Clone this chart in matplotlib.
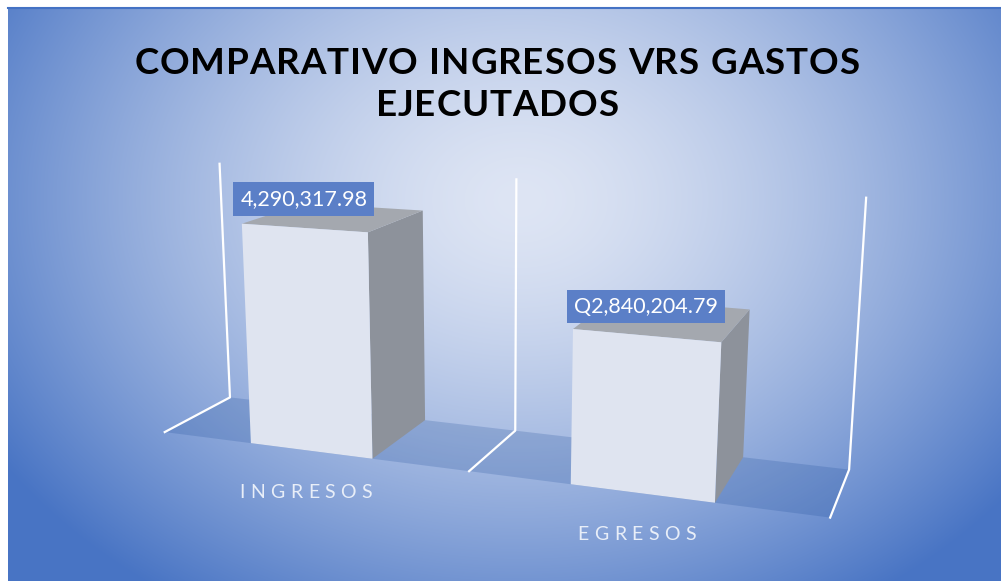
import numpy as np
import matplotlib.pyplot as plt
from matplotlib.patches import Polygon
from matplotlib.font_manager import FontProperties
from matplotlib.textpath import TextToPath

categories = ["INGRESOS", "EGRESOS"]
values = [4290317.98, 2840204.79]
value_labels = ["4,290,317.98", "Q2,840,204.79"]
title_lines = ["COMPARATIVO INGRESOS VRS GASTOS", "EJECUTADOS"]
axis_max = 5000000

# perspective camera: (category, depth, value/axis_max) -> pixel
CAM = np.array([[2.674946e+02, 8.353816e+01, -2.038339e+01, 1.647293e+02],
                [2.089745e+00, -3.072691e+00, -2.590482e+02, 4.320780e+02],
                [-7.855922e-02, 7.956826e-02, -4.167644e-02, 1.0]])


def proj(x, d, z):
    h = CAM @ np.array([x, d, z, 1.0])
    return h[0]/h[2], h[1]/h[2]


fig = plt.figure(figsize=(10.01, 5.81), dpi=100)
ax = fig.add_axes([0, 0, 1, 1])
ax.set_xlim(0, 1001)
ax.set_ylim(581, 0)
ax.axis('off')

# background radial gradient
xs = np.arange(8, 1001) + 0.5
ys = np.arange(7, 581) + 0.5
gx, gy = np.meshgrid(xs, ys)
t = np.clip(np.sqrt(((gx-520)/620)**2 + ((gy-200)/480)**2), 0, 1)**1.5
light = np.array([222, 229, 244])/255
dark = np.array([72, 116, 196])/255
bg = light + (dark-light)*t[..., None]
ax.imshow(bg, extent=(8, 1001, 581, 7), aspect='auto', zorder=0)
ax.plot([8, 1001], [7.5, 7.5], color='#4472c4', lw=1.5, zorder=1)

# floor
n = len(categories)
floor = [proj(0, 0, 0), proj(n, 0, 0), proj(n, 1, 0), proj(0, 1, 0)]
ax.add_patch(Polygon(floor, closed=True, fc='#1f4e9a', alpha=0.22, ec='none', zorder=2))

# gridlines on floor and back wall
for k in range(n+1):
    pts = [proj(k, 0, 0), proj(k, 1, 0), proj(k, 1, 1)]
    ax.plot([p[0] for p in pts], [p[1] for p in pts], color='white', lw=1.6, zorder=3)

# bars
for i, v in enumerate(values):
    h = v/axis_max
    x0, x1 = i+0.3, i+0.7
    front = [proj(x0, 0, 0), proj(x1, 0, 0), proj(x1, 0, h), proj(x0, 0, h)]
    side = [proj(x1, 0, 0), proj(x1, 1, 0), proj(x1, 1, h), proj(x1, 0, h)]
    top = [proj(x0, 0, h), proj(x1, 0, h), proj(x1, 1, h), proj(x0, 1, h)]
    ax.add_patch(Polygon(side, fc='#8d929b', ec='none', zorder=4))
    ax.add_patch(Polygon(top, fc='#a4a8af', ec='none', zorder=4))
    ax.add_patch(Polygon(front, fc='#dfe4f0', ec='none', zorder=5))
    tx, ty = proj(i+0.5, 0, h)
    ax.text(tx, ty-19, value_labels[i], ha='center', va='bottom', color='white',
            fontsize=15.5, family='Lato', zorder=6,
            bbox=dict(boxstyle='square,pad=0.32', fc='#5b7fc7', ec='none'))

ttp = TextToPath()


def spaced(x, y, s, prop, track, color):
    # letter-spaced text centred at x, baseline y
    ws = []
    for c in s:
        if c == ' ':
            ws.append(prop.get_size_in_points()*0.28*100/72)
        else:
            ws.append(ttp.get_text_width_height_descent(c, prop, ismath=False)[0]*100/72)
    total = sum(ws) + track*(len(s)-1)
    cx = x - total/2
    for c, w in zip(s, ws):
        if c != ' ':
            ax.text(cx, y, c, fontproperties=prop, color=color, ha='left', va='baseline', zorder=7)
        cx += w + track

title_prop = FontProperties(family='Lato', weight='bold', size=26.5)
spaced(497, 74, title_lines[0], title_prop, 0.8, 'black')
spaced(497, 116, title_lines[1], title_prop, 0.8, 'black')

cat_prop = FontProperties(family='Lato', size=14)
for i, c in enumerate(categories):
    lx, ly = proj(i+0.5, 0, 0)
    spaced(lx-5, ly+47, c, cat_prop, 5.5, '#e8eef8')

fig.savefig('out.png', dpi=100)
